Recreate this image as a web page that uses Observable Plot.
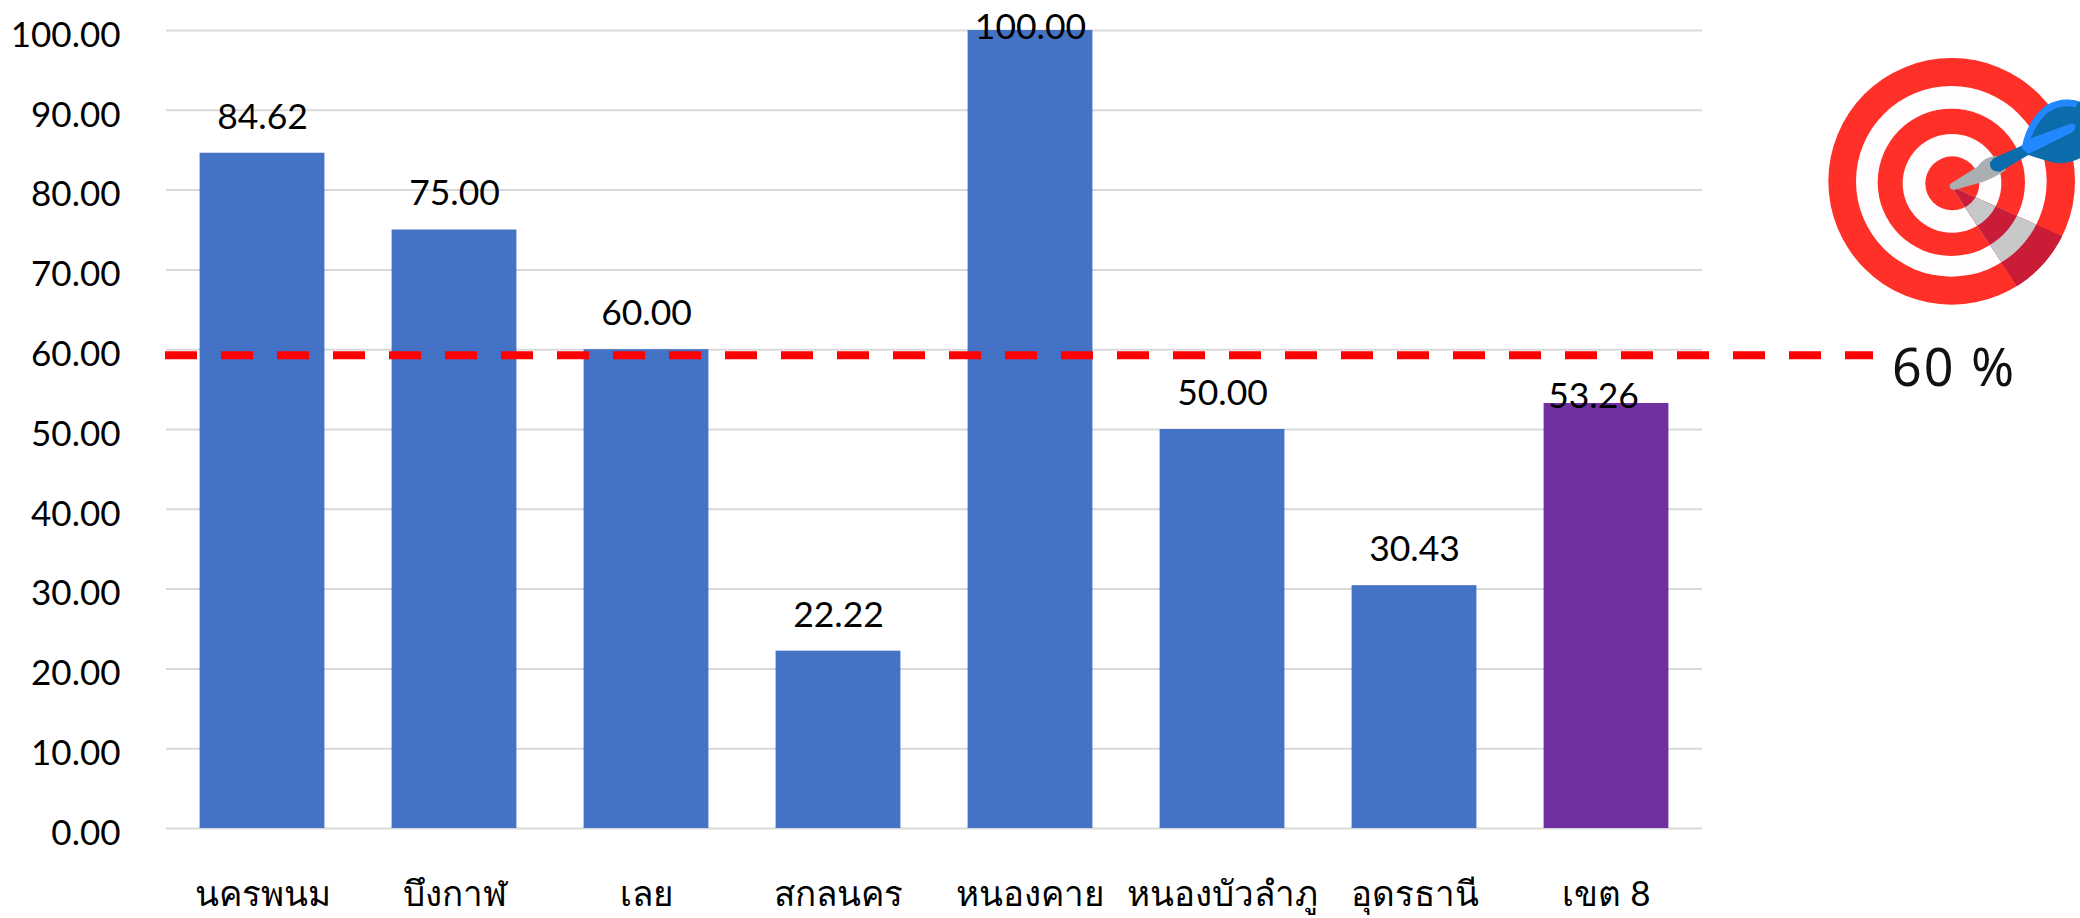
<!DOCTYPE html>
<html><head><meta charset="utf-8">
<script src="https://cdn.jsdelivr.net/npm/d3@7"></script>
<script src="https://cdn.jsdelivr.net/npm/@observablehq/plot@0.6"></script>
<style>
html,body{margin:0;padding:0;background:#fff;overflow:hidden}
#wrap{position:relative;width:2080px;height:918px}
#wrap svg{display:block}
#icon{position:absolute;left:1780px;top:30px;width:300px;height:400px}
#goal{position:absolute;left:1892px;top:333px;font:52px "Noto Sans",sans-serif;color:#111;letter-spacing:2px;white-space:pre;line-height:66px}
</style></head><body>
<div id="wrap"><div id="chart"></div>
<svg id="icon" viewBox="0 0 900 1200">
<defs><clipPath id="c"><path d="M515 470L850 620A370 370 0 0 1 712 770Z"/></clipPath></defs>
<circle cx="515" cy="454" r="370" fill="#ff3028"/>
<circle cx="514" cy="454" r="286" fill="#fffdfd"/>
<circle cx="514" cy="457" r="221" fill="#ff3028"/>
<circle cx="516" cy="460" r="148" fill="#fffdfd"/>
<circle cx="517" cy="460" r="81" fill="#ff3028"/>
<g clip-path="url(#c)">
<circle cx="515" cy="454" r="370" fill="#c91c38"/>
<circle cx="514" cy="454" r="286" fill="#c8c8c8"/>
<circle cx="514" cy="457" r="221" fill="#c91c38"/>
<circle cx="516" cy="460" r="148" fill="#c8c8c8"/>
<circle cx="517" cy="460" r="81" fill="#c91c38"/>
</g>
<path d="M510 462L590 412Q615 378 650 378L678 420Q640 445 610 455L522 480Q505 478 510 462Z" fill="#a9afb3"/>
<path d="M640 385L730 345L745 375L660 425Q628 425 630 398Z" fill="#0a6cab"/>
<path d="M725 352Q760 250 810 222Q860 200 900 215L900 385Q850 410 800 392L735 372Z" fill="#0a6cab"/>
<path d="M725 355Q740 270 800 225Q850 198 895 215L888 232Q840 220 800 250Q770 280 752 325L875 280Q895 285 880 305L745 372Z" fill="#2288ff"/>
</svg>
<div id="goal">60 %</div></div>
<script>
const districts = ["นครพนม","บึงกาฬ","เลย","สกลนคร","หนองคาย","หนองบัวลำภู","อุดรธานี","เขต 8"];
const values = [84.62,75.00,60.00,22.22,100.00,50.00,30.43,53.26];
const barColors = ["#4472C4","#4472C4","#4472C4","#4472C4","#4472C4","#4472C4","#4472C4","#7030A0"];
const yTicks = [0,10,20,30,40,50,60,70,80,90,100];
const targetLine = [59.3];
const rows = districts.map((d,i)=>({d,v:values[i],c:barColors[i]}));
const font = 'Lato, sans-serif';
const label = (filter, dx, dy) => Plot.text(rows.filter(filter),{x:"d",y:"v",text:r=>r.v.toFixed(2),fontSize:35.5,fill:"#000",dx,dy});
document.getElementById("chart").append(Plot.plot({
  width:2080,height:918,marginLeft:166,marginRight:378,marginTop:30,marginBottom:90,
  style:{background:"#fff",fontFamily:font},
  x:{domain:districts,paddingInner:0.35,paddingOuter:0.175,round:false,label:null},
  y:{domain:[0,100],label:null,ticks:yTicks},
  marks:[
    Plot.ruleY(yTicks,{stroke:"#d9d9d9",strokeWidth:2}),
    Plot.barY(rows,{x:"d",y:"v",fill:"c"}),
    Plot.ruleY(targetLine,{stroke:"#ff0000",strokeWidth:8,strokeDasharray:"32 24",insetLeft:-1,insetRight:-171}),
    Plot.axisY({ticks:yTicks,tickSize:0,tickPadding:46,tickFormat:d3.format(".2f"),fontSize:35,fill:"#000",dy:5,label:null,marginLeft:166}),
    Plot.axisX({tickSize:0,tickPadding:53,fontSize:35,fill:"#000",label:null}),
    label(r=>r.d!=="หนองคาย"&&r.d!=="เขต 8",0,-36),
    label(r=>r.d==="หนองคาย",0,-3),
    label(r=>r.d==="เขต 8",-13,-7)
  ]
}));
</script></body></html>
